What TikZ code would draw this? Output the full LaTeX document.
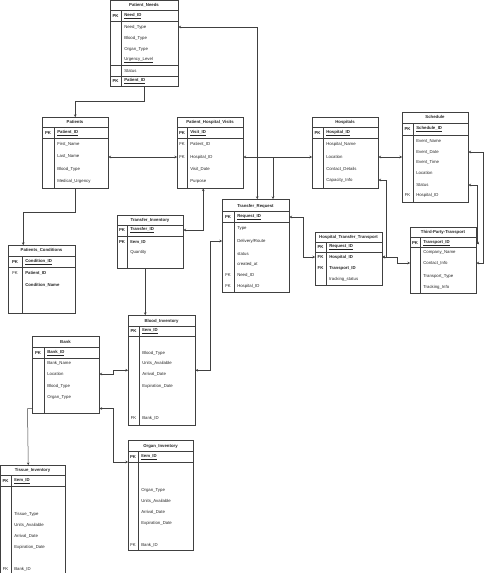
\documentclass[tikz,border=0pt]{standalone}
\usepackage{fontspec}
\setmainfont{Liberation Sans}
\usetikzlibrary{arrows.meta}
\newcommand{\erfont}{\fontsize{4.3}{5}\selectfont}

\begin{document}
\begin{tikzpicture}
[x=1pt, y=-1pt, line width=0.5pt, draw=black!75,
tbox/.style={rectangle, draw=black!75, anchor=north west, inner sep=0pt},
ttl/.style={font=\erfont\bfseries, text=black!85, inner sep=0pt},
tag/.style={font=\erfont\bfseries, text=black!85, inner sep=0pt},
tagfk/.style={font=\erfont, text=black!85, inner sep=0pt},
key/.style={anchor=west, font=\erfont\bfseries, text=black!85, inner sep=0pt},
fld/.style={anchor=west, font=\erfont, text=black!85, inner sep=0pt},
keyline/.style={draw=black!75, line width=0.9pt},
conn/.style={draw=black!75, line width=0.5pt, -{Stealth[length=2.5pt, width=2.5pt]}},
conn2/.style={draw=black!75, line width=0.5pt, {Stealth[length=2.5pt, width=2.5pt]}-{Stealth[length=2.5pt, width=2.5pt]}}]

\fill[white] (0,0) rectangle (486,573);
\useasboundingbox (0,0) rectangle (486,573);

\node[tbox, minimum width=68pt, minimum height=86pt] (pn) at (110,0) {};
\draw (110,10) -- (178,10);
\draw[keyline] (110,21) -- (178,21);
\draw (110,65) -- (178,65);
\draw (110,76) -- (178,76);
\draw (121,10) -- (121,86);
\node[ttl] (pnT) at (144,5) {Patient\_Needs};
\node[tag] (pnK1) at (115.5,16) {PK};
\node[key] (pnNeedID) at (124,16) {\underline{Need\_ID}};
\node[fld] (pnNeedType) at (124,27) {Need\_Type};
\node[fld] (pnBlood) at (124,38) {Blood\_Type};
\node[fld] (pnOrgan) at (124,49) {Organ\_Type};
\node[fld] (pnUrgency) at (124,60) {\underline{Urgency\_Level}};
\node[fld] (pnStatus) at (124,71) {Status};
\node[tag] (pnK2) at (115.5,81) {PK};
\node[key] (pnPatID) at (124,81) {\underline{Patient\_ID}};

\node[tbox, minimum width=66pt, minimum height=71pt] (pat) at (42,117) {};
\draw (42,127) -- (108,127);
\draw[keyline] (42,138) -- (108,138);
\draw (54,127) -- (54,188);
\node[ttl] (patT) at (75,122) {Patients};
\node[tag] (patK1) at (48,133) {PK};
\node[key] (patID) at (57,133) {\underline{Patient\_ID}};
\node[fld] (patFirst) at (57,144) {First\_Name};
\node[fld] (patLast) at (57,156) {Last\_Name};
\node[fld] (patBlood) at (57,169) {Blood\_Type};
\node[fld] (patUrg) at (57,181) {Medical\_Urgency};

\node[tbox, minimum width=66pt, minimum height=71pt] (phv) at (177,117) {};
\draw (177,127) -- (243,127);
\draw[keyline] (177,138) -- (243,138);
\draw (187,127) -- (187,188);
\node[ttl] (phvT) at (210,122) {Patient\_Hospital\_Visits};
\node[tag] (phvK1) at (182,133) {PK};
\node[key] (phvVisitID) at (190,133) {\underline{Visit\_ID}};
\node[tagfk] (phvK2) at (182,144) {FK};
\node[fld] (phvPatID) at (190,144) {Patient\_ID};
\node[tagfk] (phvK3) at (182,157) {FK};
\node[fld] (phvHospID) at (190,157) {Hospital\_ID};
\node[fld] (phvDate) at (190,169) {Visit\_Date};
\node[fld] (phvPurpose) at (190,181) {Purpose};

\node[tbox, minimum width=66pt, minimum height=71pt] (hosp) at (312,117) {};
\draw (312,127) -- (378,127);
\draw[keyline] (312,138) -- (378,138);
\draw (323,127) -- (323,188);
\node[ttl] (hospT) at (345,122) {Hospitals};
\node[tag] (hospK1) at (317.5,133) {PK};
\node[key] (hospID) at (326,133) {\underline{Hospital\_ID}};
\node[fld] (hospName) at (326,144) {Hospital\_Name};
\node[fld] (hospLoc) at (326,157) {Location};
\node[fld] (hospContact) at (326,169) {Contact\_Details};
\node[fld] (hospCap) at (326,180) {Capacity\_Info};

\node[tbox, minimum width=66pt, minimum height=90pt] (sch) at (402,112) {};
\draw (402,123) -- (468,123);
\draw[keyline] (402,135) -- (468,135);
\draw (413,123) -- (413,202);
\node[ttl] (schT) at (435,117) {Schedule};
\node[tag] (schK1) at (407.5,129) {PK};
\node[key] (schID) at (416,129) {\underline{Schedule\_ID}};
\node[fld] (schName) at (416,141) {Event\_Name};
\node[fld] (schDate) at (416,152) {Event\_Date};
\node[fld] (schTime) at (416,162) {Event\_Time};
\node[fld] (schLoc) at (416,173) {Location};
\node[fld] (schStatus) at (416,185) {Status};
\node[tagfk] (schK2) at (407.5,195) {FK};
\node[fld] (schHospID) at (416,195) {Hospital\_ID};

\node[tbox, minimum width=67pt, minimum height=68pt] (pc) at (8,245) {};
\draw (8,256) -- (75,256);
\draw[keyline] (8,267) -- (75,267);
\draw (22,256) -- (22,313);
\node[ttl] (pcT) at (41.5,250) {Patients\_Conditions};
\node[tag] (pcK1) at (15,262) {PK};
\node[key] (pcCondID) at (25,262) {\underline{Condition\_ID}};
\node[tagfk] (pcK2) at (15,273) {FK};
\node[key] (pcPatID) at (25,273) {Patient\_ID};
\node[key] (pcCondName) at (25,285) {Condition\_Name};

\node[tbox, minimum width=66pt, minimum height=53pt] (ti) at (117,215) {};
\draw (117,225) -- (183,225);
\draw[keyline] (117,236) -- (183,236);
\draw (127,225) -- (127,268);
\node[ttl] (tiT) at (150,220) {Transfer\_Inventory};
\node[tag] (tiK1) at (122,230) {PK};
\node[key] (tiTransID) at (130,230) {\underline{Transfer\_ID}};
\node[tag] (tiK2) at (122,242) {PK};
\node[key] (tiItemID) at (130,242) {Item\_ID};
\node[fld] (tiQty) at (130,252) {Quantity};

\node[tbox, minimum width=67pt, minimum height=93pt] (tr) at (222,199) {};
\draw (222,211) -- (289,211);
\draw[keyline] (222,222) -- (289,222);
\draw (234,211) -- (234,292);
\node[ttl] (trT) at (255.5,206) {Transfer\_Request};
\node[tag] (trK1) at (228,217) {PK};
\node[key] (trReqID) at (237,217) {\underline{Request\_ID}};
\node[fld] (trType) at (237,228) {Type};
\node[fld] (trRoute) at (237,241) {Delivery/Route};
\node[fld] (trStatus) at (237,254) {status};
\node[fld] (trCreated) at (237,264) {created\_at};
\node[tagfk] (trK2) at (228,275) {FK};
\node[fld] (trNeedID) at (237,275) {Need\_ID};
\node[tagfk] (trK3) at (228,286) {FK};
\node[fld] (trHospID) at (237,286) {Hospital\_ID};

\node[tbox, minimum width=67pt, minimum height=53pt] (htt) at (315,232) {};
\draw (315,242) -- (382,242);
\draw[keyline] (315,252) -- (382,252);
\draw (326,242) -- (326,285);
\node[ttl] (httT) at (348.5,237) {Hospital\_Transfer\_Transport};
\node[tag] (httK1) at (320.5,247) {PK};
\node[key] (httReqID) at (329,247) {\underline{Request\_ID}};
\node[tag] (httK2) at (320.5,257) {FK};
\node[key] (httHospID) at (329,257) {Hospital\_ID};
\node[tag] (httK3) at (320.5,268) {FK};
\node[key] (httTransID) at (329,268) {Transport\_ID};
\node[fld] (httTrack) at (329,279) {tracking\_status};

\node[tbox, minimum width=66pt, minimum height=66pt] (tpt) at (410,227) {};
\draw (410,237) -- (476,237);
\draw[keyline] (410,247) -- (476,247);
\draw (420,237) -- (420,293);
\node[ttl] (tptT) at (443,232) {Third-Party-Transport};
\node[tag] (tptK1) at (415,243) {PK};
\node[key] (tptTransID) at (423,243) {\underline{Transport\_ID}};
\node[fld] (tptCompany) at (423,252) {Company\_Name};
\node[fld] (tptContact) at (423,263) {Contact\_Info};
\node[fld] (tptType) at (423,276) {Transport\_Type};
\node[fld] (tptTrack) at (423,287) {Tracking\_Info};

\node[tbox, minimum width=67pt, minimum height=110pt] (bi) at (128,315) {};
\draw (128,326) -- (195,326);
\draw[keyline] (128,336) -- (195,336);
\draw (139,326) -- (139,425);
\node[ttl] (biT) at (161.5,321) {Blood\_Inventory};
\node[tag] (biK1) at (133.5,331) {PK};
\node[key] (biItemID) at (142,331) {\underline{Item\_ID}};
\node[fld] (biBlood) at (142,353) {Blood\_Type};
\node[fld] (biUnits) at (142,363) {Units\_Available};
\node[fld] (biArrival) at (142,374) {Arrival\_Date};
\node[fld] (biExpiry) at (142,386) {Expiration\_Date};
\node[tagfk] (biK2) at (133.5,418) {FK};
\node[fld] (biBankID) at (142,418) {Bank\_ID};

\node[tbox, minimum width=67pt, minimum height=77pt] (bank) at (32,336) {};
\draw (32,347) -- (99,347);
\draw[keyline] (32,358) -- (99,358);
\draw (44,347) -- (44,413);
\node[ttl] (bankT) at (65.5,342) {Bank};
\node[tag] (bankK1) at (38,353) {PK};
\node[key] (bankID) at (47,353) {\underline{Bank\_ID}};
\node[fld] (bankName) at (47,363) {Bank\_Name};
\node[fld] (bankLoc) at (47,374) {Location};
\node[fld] (bankBlood) at (47,386) {Blood\_Type};
\node[fld] (bankOrgan) at (47,397) {Organ\_Type};

\node[tbox, minimum width=65pt, minimum height=110pt] (oi) at (128,440) {};
\draw (128,451) -- (193,451);
\draw[keyline] (128,462) -- (193,462);
\draw (138,451) -- (138,550);
\node[ttl] (oiT) at (160.5,446) {Organ\_Inventory};
\node[tag] (oiK1) at (133,457) {PK};
\node[key] (oiItemID) at (141,457) {\underline{Item\_ID}};
\node[fld] (oiOrgan) at (141,490) {Organ\_Type};
\node[fld] (oiUnits) at (141,501) {Units\_Available};
\node[fld] (oiArrival) at (141,512) {Arrival\_Date};
\node[fld] (oiExpiry) at (141,523) {Expiration\_Date};
\node[tagfk] (oiK2) at (133,545) {FK};
\node[fld] (oiBankID) at (141,545) {Bank\_ID};

\node[tbox, minimum width=65pt, minimum height=115pt] (tis) at (0,465) {};
\draw (0,475) -- (65,475);
\draw[keyline] (0,486) -- (65,486);
\draw (11,475) -- (11,580);
\node[ttl] (tisT) at (32.5,470) {Tissue\_Inventory};
\node[tag] (tisK1) at (5.5,481) {PK};
\node[key] (tisItemID) at (14,481) {\underline{Item\_ID}};
\node[fld] (tisTissue) at (14,514) {Tissue\_Type};
\node[fld] (tisUnits) at (14,525) {Units\_Available};
\node[fld] (tisArrival) at (14,536) {Arrival\_Date};
\node[fld] (tisExpiry) at (14,547) {Expiration\_Date};
\node[tagfk] (tisK2) at (5.5,569) {FK};
\node[fld] (tisBankID) at (14,569) {Bank\_ID};

\coordinate (jH) at (273,157);

\draw[conn] (pn.south) -- ++(0,15) -| (pat.north);
\draw[conn2] (pn.east |- pnNeedType) -| ([xshift=1.5pt]tr.north);
\draw[conn2] (pat.east |- phvHospID) -- (phv.west |- phvHospID);
\draw[conn2] (phv.east |- phvHospID) -- (hosp.west |- hospLoc);
\draw[conn] (jH) -- (tr.north -| jH);
\draw[conn2] (hosp.east |- hospLoc) -- (sch.west |- hospLoc);
\draw[conn2] (hosp.east |- hospCap) -- ++(8,0) |- (htt.east |- httHospID);
\draw[conn2] (htt.east |- httHospID) -- ++(15,0) |- (tpt.west |- tptContact);
\draw[conn2] (sch.east |- schDate) -- ++(15,0) |- (tpt.east |- tptContact);
\draw[conn2] (sch.east |- schStatus) -- ++(9,0) |- (tpt.east |- tptTransID);
\draw[conn] (pat.south) -- ++(0,24) -| ([xshift=-18.5pt]pc.north);
\draw[conn2] (ti.east |- tiTransID) -| ([xshift=-7pt]phv.south);
\draw[conn] ([xshift=-5pt]ti.south) -- ([xshift=-5pt]ti.south |- bi.north);
\draw[conn2] (tr.west |- trRoute) -- ++(-12,0) |- (bi.east);
\draw[conn2] (tr.east |- trReqID) -- ++(14,0) |- (htt.west |- httHospID);
\draw[conn2] (bank.east |- bankLoc) -- ++(14,0) |- (bi.west);
\draw[conn2] ([yshift=5pt]bank.south east) -- ++(14,0) |- ([yshift=-5pt]oi.west |- oiItemID);
\draw[conn] ([yshift=5pt]bank.south west) -- ++(-4.5,0) -- ([xshift=-4.5pt]tis.north);
\end{tikzpicture}
\end{document}
